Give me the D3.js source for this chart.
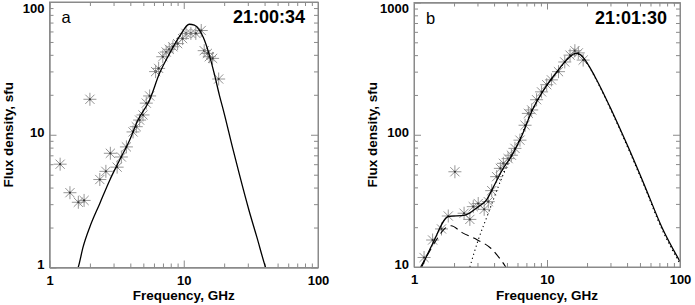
<!DOCTYPE html>
<html>
<head>
<meta charset="utf-8">
<script src="https://cdn.jsdelivr.net/npm/d3@7"></script>
<style>
  body { margin: 0; background: #fff; }
  svg { font-family: "Liberation Sans", Arial, Helvetica, sans-serif; }
</style>
</head>
<body>
<div id="chart"></div>
<script>
// ---- panel a (21:00:34) ----
var aFreq = [1.2, 1.42, 1.64, 1.81, 2.0, 2.37, 2.63, 2.84, 3.19, 3.43, 3.74, 4.19, 4.43, 4.69, 4.97, 5.26, 5.57,
             6.17, 6.5, 6.98, 7.4, 7.8, 8.3, 9.0, 9.8, 10.4, 11.3, 12.3, 13.5, 14.2, 15.0, 15.5, 16.4, 18.2];
var aFlux = [6.0, 3.66, 3.1, 3.2, 18.5, 4.6, 5.3, 7.25, 5.7, 6.8, 8.1, 10.5, 11.5, 12.9, 14.1, 17.3, 19.6,
             29.9, 31.6, 38.7, 42, 44, 46, 48.6, 53, 58, 58, 58, 61, 43, 41, 38.7, 37.6, 26.3];
var aFitFreq = [1.58, 1.64, 1.78, 2.0, 2.37, 2.81, 3.33, 3.95, 4.56, 5.57, 6.6, 7.85, 9.3, 11.0, 12.0, 13.0, 14.0,
                15.5, 17.0, 18.4, 20.0, 23.1, 26.0, 30.6, 35.0, 40.7, 43.0];
var aFitFlux = [0.9, 1.01, 1.43, 2.03, 3.04, 4.55, 6.45, 9.1, 12.9, 18.3, 29, 41, 55, 68, 67, 62, 54,
                40, 28, 20, 14.5, 8, 5, 2.7, 1.7, 1.0, 0.85];

// ---- panel b (21:01:30) ----
var bFreq = [1.19, 1.38, 1.61, 1.81, 2.03, 2.38, 2.63, 2.79, 3.04, 3.37, 3.62, 3.84, 4.18, 4.46, 4.7, 5.1, 5.4,
             5.74, 6.26, 6.84, 7.24, 7.67, 8.35, 9.1, 9.95, 10.8, 12.2, 13.6, 14.9, 16.2, 17.2, 18.7];
var bFlux = [11.8, 16.0, 19.4, 24.3, 52.5, 25.5, 22.9, 28.6, 30.2, 27.3, 31.2, 37.8, 48.2, 55.7, 60.8, 66, 70,
             78.9, 91, 118, 145, 154, 184, 211, 239, 260, 300, 355, 400, 432, 416, 367];
var bFitFreq = [1.1, 1.38, 1.81, 2.42, 3.05, 3.5, 3.94, 4.55, 5.4, 6.43, 7.67, 9.64, 12.2, 14.5, 16.4, 17.8,
                20.0, 22.9, 30.5, 40.7, 54.6, 72.9, 100];
var bFitFlux = [9.2, 15, 24.0, 24.7, 28.6, 32, 40, 53, 69, 97, 150, 225, 310, 380, 412, 404,
                350, 276, 154, 81, 40.5, 20.1, 11.0];
var bLowFreq = [1.12, 1.3, 1.5, 1.7, 1.9, 2.3, 3.0, 3.8, 4.5, 4.9];
var bLowFlux = [10, 13, 16.5, 19.5, 20.5, 18.2, 16, 13.8, 11.3, 10];
var bHighFreq = [2.63, 3.04, 3.62, 4.3, 5.1, 6.0, 7.0, 7.67, 9.64, 12.2, 14.5, 16.4, 17.8, 20.0, 22.9, 30.5, 40.7, 54.6, 72.9, 100];
var bHighFlux = [10, 16, 25.5, 40.5, 61, 85, 122, 150, 224, 308, 378, 410, 402, 347, 273, 151, 79, 39.5, 19.4, 10.6];

var xTicks = [1, 10, 100];

var width = 695, height = 305;

var svg = d3.select("#chart").append("svg")
  .attr("width", width)
  .attr("height", height);

svg.append("rect").attr("width", width).attr("height", height).attr("fill", "#fff");

function zip(fs, ss) {
  return fs.map(function(f, i) { return { f: f, s: ss[i] }; });
}

function minors(lo, hi) {
  var out = [];
  for (var d = lo; d < hi; d *= 10)
    for (var k = 2; k <= 9; k++) out.push(d * k);
  return out;
}

function drawPanel(p) {
  var g = svg.append("g").attr("transform", "translate(" + p.left + "," + p.top + ")");
  var w = p.w, h = p.h;

  var x = d3.scaleLog().domain([1, 100]).range([0, w]);
  var y = d3.scaleLog().domain(p.yDomain).range([h, 0]);

  var clip = "clip-" + p.name;
  g.append("clipPath").attr("id", clip).append("rect").attr("width", w).attr("height", h);

  // axes: major + minor ticks on all four sides, pointing inward
  var axisCol = "#8a8a8a";
  function addAxis(axisFn, scale, vals, size, labels, tr, pad) {
    var ax = g.append("g").attr("transform", tr)
      .call(axisFn(scale).tickValues(vals).tickSize(-size).tickSizeOuter(0).tickPadding(pad)
        .tickFormat(labels ? d3.format("d") : ""));
    ax.select(".domain").attr("stroke", axisCol);
    ax.selectAll(".tick line").attr("stroke", axisCol);
    ax.selectAll("text").attr("fill", "#000").attr("font-size", 13).attr("font-weight", "bold")
      .attr("font-family", "Liberation Sans, Arial, sans-serif");
    return ax;
  }
  var yTicks = p.yTicks;
  addAxis(d3.axisBottom, x, xTicks, 7, true, "translate(0," + h + ")", 8);
  addAxis(d3.axisBottom, x, minors(1, 100), 4, false, "translate(0," + h + ")", 0);
  addAxis(d3.axisTop, x, xTicks, 7, false, "translate(0,0)", 0);
  addAxis(d3.axisTop, x, minors(1, 100), 4, false, "translate(0,0)", 0);
  var yl = addAxis(d3.axisLeft, y, yTicks, 7, true, "translate(0,0)", 5);
  // labels sit just above the tick; the top one is kept inside the page
  yl.selectAll("text").attr("dy", function(d) { return d === p.yDomain[1] ? "0.8em" : "0.1em"; });
  addAxis(d3.axisLeft, y, minors(p.yDomain[0], p.yDomain[1]), 4, false, "translate(0,0)", 0);
  addAxis(d3.axisRight, y, yTicks, 7, false, "translate(" + w + ",0)", 0);
  addAxis(d3.axisRight, y, minors(p.yDomain[0], p.yDomain[1]), 4, false, "translate(" + w + ",0)", 0);

  var line = d3.line()
    .x(function(d) { return x(d.f); })
    .y(function(d) { return y(d.s); })
    .curve(d3.curveMonotoneX);

  var plot = g.append("g").attr("clip-path", "url(#" + clip + ")");

  // data points: asterisks
  var star = plot.selectAll(".pt").data(zip(p.freq, p.flux)).enter().append("g")
    .attr("class", "pt")
    .attr("transform", function(d) { return "translate(" + x(d.f) + "," + y(d.s) + ")"; });
  [0, 45, 90, 135].forEach(function(a) {
    star.append("line")
      .attr("x1", -6.5).attr("x2", 6.5).attr("y1", 0).attr("y2", 0)
      .attr("transform", "rotate(" + a + ")")
      .attr("stroke", "#8c8c8c").attr("stroke-width", 0.9);
  });
  star.append("circle").attr("r", 1.1).attr("fill", "#333");

  p.lines.forEach(function(l) {
    plot.append("path")
      .datum(zip(l.f, l.s))
      .attr("d", line)
      .attr("fill", "none")
      .attr("stroke", "#000")
      .attr("stroke-width", l.dash ? 1.1 : 1.3)
      .attr("stroke-dasharray", l.dash || null);
  });

  // frame
  g.append("rect").attr("width", w).attr("height", h)
    .attr("fill", "none").attr("stroke", axisCol).attr("stroke-width", 1);

  g.append("text").attr("x", 12).attr("y", 21).attr("font-size", 16.5).text(p.name);
  g.append("text").attr("x", w - 13).attr("y", 21).attr("text-anchor", "end")
    .attr("font-size", 18).attr("font-weight", "bold").text(p.time);

  g.append("text").attr("x", w / 2).attr("y", 300 - p.top).attr("text-anchor", "middle")
    .attr("font-size", 13.5).attr("font-weight", "bold").text("Frequency, GHz");
  g.append("text")
    .attr("transform", "translate(" + (p.titleX - p.left) + "," + (h / 2) + ") rotate(-90)")
    .attr("text-anchor", "middle")
    .attr("font-size", 13.5).attr("font-weight", "bold").text("Flux density, sfu");
}

drawPanel({
  name: "a", time: "21:00:34", left: 49.5, top: 2, w: 268.5, h: 265.5, titleX: 13,
  yDomain: [1, 100], yTicks: [1, 10, 100],
  freq: aFreq, flux: aFlux,
  lines: [{ f: aFitFreq, s: aFitFlux }]
});

drawPanel({
  name: "b", time: "21:01:30", left: 414, top: 2.5, w: 266, h: 264.5, titleX: 377,
  yDomain: [10, 1000], yTicks: [10, 100, 1000],
  freq: bFreq, flux: bFlux,
  lines: [
    { f: bLowFreq, s: bLowFlux, dash: "8,5" },
    { f: bHighFreq, s: bHighFlux, dash: "1.2,3" },
    { f: bFitFreq, s: bFitFlux }
  ]
});
</script>
</body>
</html>
